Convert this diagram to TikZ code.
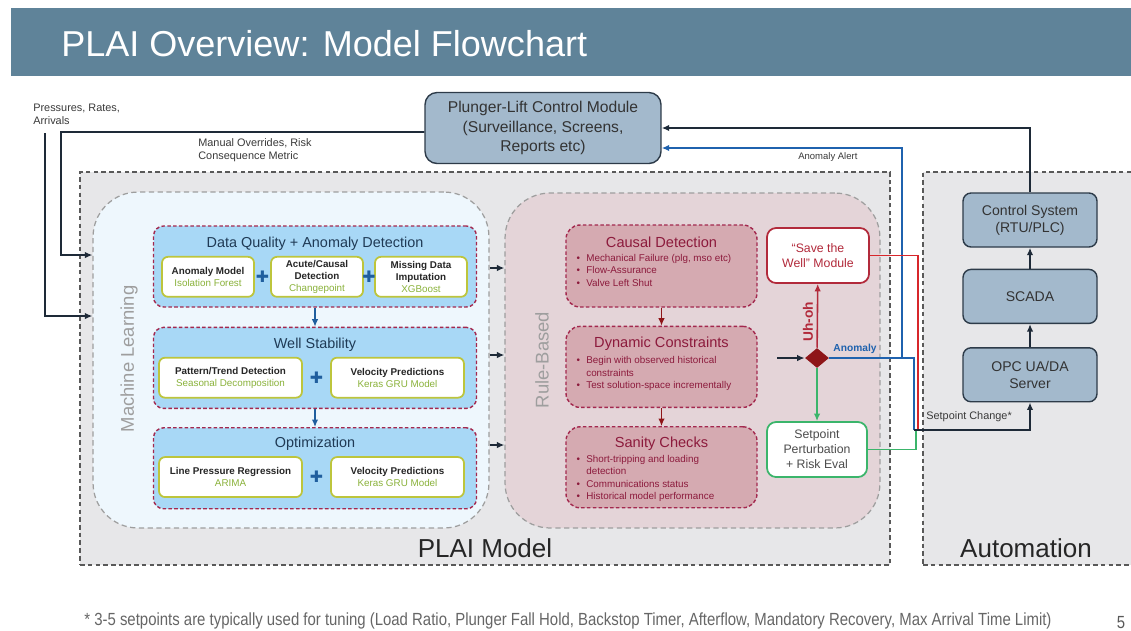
\documentclass[tikz,border=0pt]{standalone}
\usepackage{fontspec}
\setmainfont{Liberation Sans}
\newfontfamily\condensed[FakeStretch=0.85]{Liberation Sans}
\newfontfamily\symbolfont{DejaVu Sans}
\usetikzlibrary{arrows.meta,positioning,shapes.geometric,calc}

\definecolor{barblue}{HTML}{5F8399}
\definecolor{panelgray}{HTML}{E7E7E9}
\definecolor{mlfill}{HTML}{EEF7FD}
\definecolor{rulefill}{HTML}{E4D4D8}
\definecolor{stagefill}{HTML}{A8D8F6}
\definecolor{berry}{HTML}{A3284E}
\definecolor{stagetext}{HTML}{1F3A55}
\definecolor{olive}{HTML}{BDC53C}
\definecolor{leaf}{HTML}{8AB23A}
\definecolor{plusblue}{HTML}{1F5E9E}
\definecolor{checkfill}{HTML}{D5AAB1}
\definecolor{checktext}{HTML}{8C1A3C}
\definecolor{alarm}{HTML}{B22A3B}
\definecolor{gem}{HTML}{8E1518}
\definecolor{okgreen}{HTML}{3BB56B}
\definecolor{alertblue}{HTML}{1F62AE}
\definecolor{hotred}{HTML}{D7262B}
\definecolor{modfill}{HTML}{A3B9CC}
\definecolor{modedge}{HTML}{2D3B49}
\definecolor{wire}{HTML}{1E2A38}
\definecolor{note}{HTML}{3A3A3A}

\newcommand{\itm}{\makebox[5.5pt][l]{\textbullet}}

\begin{document}
\begin{tikzpicture}[x=0.02cm,y=-0.02cm,
  panel/.style={draw=black!65,line width=0.7pt,dash pattern=on 2.6pt off 1.8pt,fill=panelgray},
  zone/.style={draw=black!38,line width=0.7pt,dash pattern=on 3pt off 2pt,rounded corners=9mm},
  stage/.style={draw=berry,line width=0.8pt,dash pattern=on 2pt off 1.3pt,fill=stagefill,
    rounded corners=2mm,minimum width=64.6mm,minimum height=16.2mm},
  stagetitle/.style={text=stagetext,font=\fontsize{8.2}{9}\selectfont,inner sep=0pt},
  tool/.style={draw=olive,line width=1pt,fill=white,rounded corners=1.2mm,align=center,
    minimum height=8mm,inner sep=1pt,font=\fontsize{5.6}{6.8}\selectfont,text=black!85},
  plus/.style={text=plusblue,font=\fontsize{9}{9}\symbolfont,inner sep=0pt},
  check/.style={draw=berry,line width=0.8pt,dash pattern=on 2pt off 1.3pt,fill=checkfill,
    rounded corners=2.8mm,minimum width=38.2mm,minimum height=16.2mm},
  checktitle/.style={text=checktext,font=\fontsize{8.3}{9}\selectfont,inner sep=0pt},
  bullets/.style={text=checktext,font=\fontsize{5.6}{7.1}\selectfont,align=left,
    inner sep=0pt,anchor=north west},
  outcome/.style={fill=white,line width=1pt,rounded corners=1.8mm,align=center,
    minimum height=11mm,font=\fontsize{7}{8.5}\selectfont},
  module/.style={draw=modedge,line width=0.8pt,fill=modfill,rounded corners=1.6mm,align=center,
    minimum width=26.8mm,minimum height=10.8mm,text=black!80,font=\fontsize{8}{9.8}\selectfont},
  side/.style={text=black!38,font=\fontsize{10.5}{12}\selectfont,rotate=90,inner sep=0pt},
  caption/.style={text=black!85,font=\fontsize{14.8}{16}\selectfont,inner sep=0pt},
  tag/.style={text=note,font=\fontsize{6.2}{7.4}\selectfont,align=left,inner sep=0pt},
  arrow/.style={-{Latex[length=1.5mm,width=1.3mm]},line width=0.9pt,draw=wire},
  feedline/.style={line width=1.1pt}
]
  \useasboundingbox (0,0) rectangle (1131,630);
  \fill[white] (0,0) rectangle (1131,630);

  % title bar
  \fill[barblue] (11,8) rectangle (1131,76);
  \node[anchor=west,text=white,font=\fontsize{20.5}{24}\selectfont,inner sep=0pt] (title)
    at (61,44) {PLAI Overview: Model Flowchart};

  % containers
  \node[panel,minimum width=162mm,minimum height=78.6mm] (model) at (485,368.5) {};
  \node[panel,minimum width=42.6mm,minimum height=78.6mm] (auto) at (1029.5,368.5) {};
  \node[zone,fill=mlfill,minimum width=79.2mm,minimum height=67.2mm] (ml) at (291,360) {};
  \node[zone,fill=rulefill,minimum width=75mm,minimum height=67mm] (rb) at (692.5,360.5) {};
  \node[side] (mlname) at (129,359) {Machine Learning};
  \node[side] (rbname) at (542,360) {Rule-Based};
  \node[caption] (modelname) at (485,548) {PLAI Model};
  \node[caption] (autoname) at (1026,548) {Automation};

  % machine learning stages
  \node[stage] (dq) at (315,266.5) {};
  \node[stage,below=3.8mm of dq] (ws) {};
  \node[stage,below=3.6mm of ws] (opt) {};
  \node[stagetitle] (dqtitle) at ([yshift=-3.6mm]dq.north) {Data Quality + Anomaly Detection};
  \node[stagetitle] (wstitle) at ([yshift=-3.6mm]ws.north) {Well Stability};
  \node[stagetitle] (opttitle) at ([yshift=-3.4mm]opt.north) {Optimization};

  \node[tool,minimum width=18.4mm] (iso) at ([xshift=-21.4mm,yshift=-10.3mm]dq.north)
    {\textbf{Anomaly Model}\\\textcolor{leaf}{Isolation Forest}};
  \node[tool,minimum width=18.4mm] (cpt) at ([xshift=0.4mm,yshift=-10.3mm]dq.north)
    {\textbf{Acute/Causal}\\\textbf{Detection}\\\textcolor{leaf}{Changepoint}};
  \node[tool,minimum width=18.4mm] (xgb) at ([xshift=21.2mm,yshift=-10.3mm]dq.north)
    {\textbf{Missing Data}\\\textbf{Imputation}\\\textcolor{leaf}{XGBoost}};
  \node[plus] (p1) at ($(iso.east)!0.5!(cpt.west)$) {✚};
  \node[plus] (p2) at ($(cpt.east)!0.5!(xgb.west)$) {✚};

  \node[tool,minimum width=28.6mm] (trend) at ([xshift=-16.9mm,yshift=-10.2mm]ws.north)
    {\textbf{Pattern/Trend Detection}\\\textcolor{leaf}{Seasonal Decomposition}};
  \node[tool,minimum width=26.6mm] (gru1) at ([xshift=16.5mm,yshift=-10.2mm]ws.north)
    {\textbf{Velocity Predictions}\\\textcolor{leaf}{Keras GRU Model}};
  \node[plus] (p3) at ($(trend.east)!0.5!(gru1.west)$) {✚};

  \node[tool,minimum width=28.6mm] (arima) at ([xshift=-16.9mm,yshift=-10mm]opt.north)
    {\textbf{Line Pressure Regression}\\\textcolor{leaf}{ARIMA}};
  \node[tool,minimum width=26.6mm] (gru2) at ([xshift=16.5mm,yshift=-10mm]opt.north)
    {\textbf{Velocity Predictions}\\\textcolor{leaf}{Keras GRU Model}};
  \node[plus] (p4) at ($(arima.east)!0.5!(gru2.west)$) {✚};

  \draw[arrow,draw=plusblue,line width=0.8pt] (dq) -- (ws);
  \draw[arrow,draw=plusblue,line width=0.8pt] (ws) -- (opt);

  % rule-based checks
  \node[check,minimum height=16.4mm] (cause) at (661.5,266) {};
  \node[check,below=3.6mm of cause] (dyn) {};
  \node[check,below=3.6mm of dyn] (sane) {};
  \node[checktitle] (causetitle) at ([yshift=-3.6mm]cause.north) {Causal Detection};
  \node[checktitle] (dyntitle) at ([yshift=-3.7mm]dyn.north) {Dynamic Constraints};
  \node[checktitle] (sanetitle) at ([yshift=-3.5mm]sane.north) {Sanity Checks};
  \node[bullets] (causelist) at ([xshift=2.2mm,yshift=-5.9mm]cause.north west)
    {\itm Mechanical Failure (plg, mso etc)\\\itm Flow-Assurance\\\itm Valve Left Shut};
  \node[bullets] (dynlist) at ([xshift=2.2mm,yshift=-6.1mm]dyn.north west)
    {\itm Begin with observed historical\\\hspace*{5.5pt}constraints\\\itm Test solution-space incrementally};
  \node[bullets] (sanelist) at ([xshift=2.2mm,yshift=-5.7mm]sane.north west)
    {\itm Short-tripping and loading\\\hspace*{5.5pt}detection\\\itm Communications status\\\itm Historical model performance};
  \draw[arrow,draw=gem,line width=0.8pt] (cause) -- (dyn);
  \draw[arrow,draw=gem,line width=0.8pt] (dyn) -- (sane);

  % anomaly gate
  \node[outcome,draw=alarm,text=alarm,minimum width=20.4mm] (save) at (818,255.5) {“Save the\\Well” Module};
  \node[outcome,draw=okgreen,text=black!70,minimum width=20mm] (tune) at (817,449.5) {Setpoint\\Perturbation\\+ Risk Eval};
  \node[diamond,fill=gem,minimum width=4.8mm,minimum height=4mm,inner sep=0pt] (gate) at (817,358) {};
  \coordinate (gatein) at (777,358);
  \draw[arrow] (gatein) -- (gate);
  \draw[arrow,draw=alarm] (gate) -- (save);
  \draw[arrow,draw=okgreen] (gate) -- (tune);
  \node[rotate=90,text=alarm,font=\bfseries\fontsize{7.8}{9}\selectfont,inner sep=0pt] (uhoh) at (808,322) {Uh-oh};
  \node[text=alertblue,font=\bfseries\fontsize{5.8}{7}\selectfont,inner sep=0pt] (anomtag) at (855,349) {Anomaly};

  % automation stack
  \node[module] (rtu) at (1030,220) {Control System\\(RTU/PLC)};
  \node[module,below=4.2mm of rtu] (scada) {SCADA};
  \node[module,below=4.6mm of scada] (opc) {OPC UA/DA\\Server};
  \draw[arrow] (scada) -- (rtu);
  \draw[arrow] (opc) -- (scada);

  % control module
  \node[module,minimum width=47.2mm,minimum height=14.2mm,rounded corners=2.4mm,
    font=\fontsize{8.9}{11}\selectfont] (plc) at (543,128)
    {Plunger-Lift Control Module\\(Surveillance, Screens,\\Reports etc)};

  % inputs and overrides
  \coordinate (feed) at (45,133);
  \coordinate (override) at (61,132);
  \draw[arrow] (feed) |- ([yshift=8.8mm]ml.west);
  \draw[arrow] ([yshift=-0.8mm]plc.west) -- (override) |- ([yshift=21mm]ml.west);
  \draw[arrow] (rtu) |- (plc.east);
  \draw[arrow] (ml.east |- 0,268) -- (rb.west |- 0,268);
  \draw[arrow] (ml.east |- 0,355) -- (rb.west |- 0,355);
  \draw[arrow] (ml.east |- 0,445) -- (rb.west |- 0,445);

  % alert and setpoint wiring
  \coordinate (alertup) at (902,300);
  \coordinate (bus) at (914,430);
  \coordinate (busred) at (918,430);
  \coordinate (busgreen) at (916,430);
  \draw[arrow,draw=alertblue] (gate) -| (alertup) |- ([yshift=-4mm]plc.east);
  \draw[feedline,alertblue] (gate) -| (bus);
  \draw[feedline,hotred] (save) -| (busred);
  \draw[feedline,okgreen] (tune) -| (busgreen);
  \draw[arrow] (bus) -| (opc);

  % labels
  \node[tag,anchor=north west] (inputs) at (33,104) {Pressures, Rates,\\Arrivals};
  \node[tag,anchor=north west] (overrides) at (198,138) {Manual Overrides, Risk\\Consequence Metric};
  \node[tag,anchor=west,font=\fontsize{5.4}{6.5}\selectfont] (alerttag) at (798,157) {Anomaly Alert};
  \node[tag,anchor=west] (chg) at (926,417) {Setpoint Change*};

  % footnote
  \node[anchor=west,inner sep=0pt,text=black!60,font=\condensed\fontsize{10}{11}\selectfont] (footnote)
    at (84,621) {* 3-5 setpoints are typically used for tuning (Load Ratio, Plunger Fall Hold, Backstop Timer, Afterflow, Mandatory Recovery, Max Arrival Time Limit)};
  \node[inner sep=0pt,text=black!65,font=\condensed\fontsize{10}{11}\selectfont] (pagenum) at (1121,623) {5};
\end{tikzpicture}
\end{document}
